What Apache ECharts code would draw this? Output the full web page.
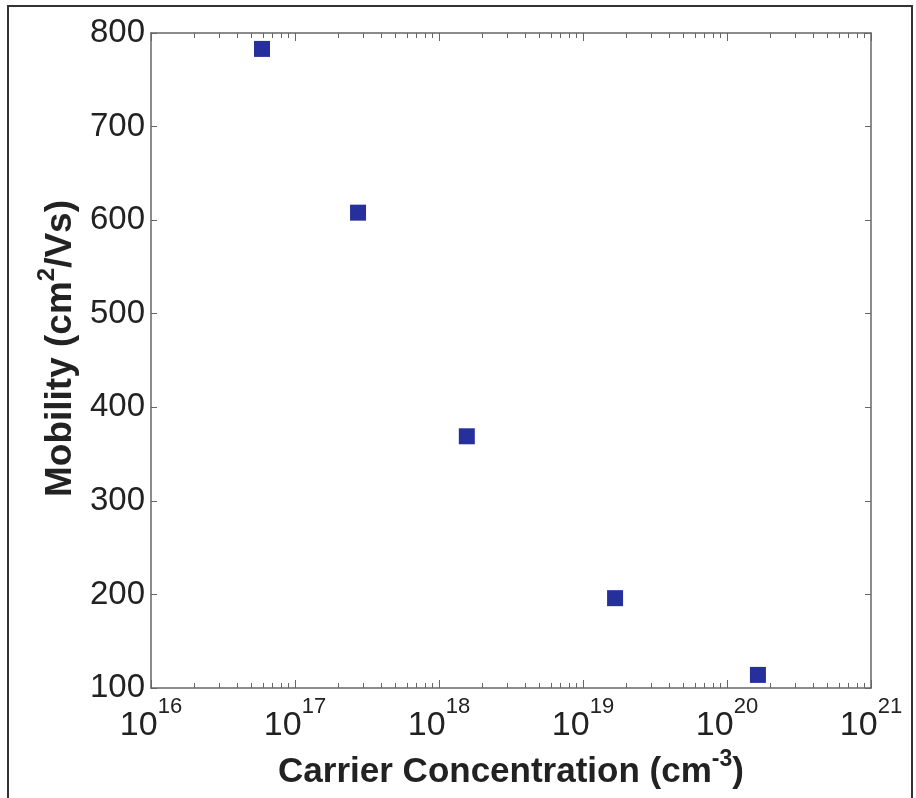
<!DOCTYPE html>
<html>
<head>
<meta charset="utf-8">
<script src="https://cdn.jsdelivr.net/npm/echarts@6/dist/echarts.min.js"></script>
<style>
  html, body { margin: 0; padding: 0; background: #fff; }
  #main { width: 916px; height: 798px; }
</style>
</head>
<body>
<div id="main"></div>
<script>
// carrier concentration (cm^-3) and mobility (cm^2/Vs)
const concentration = [5.9e16, 2.74e17, 1.56e18, 1.67e19, 1.64e20];
const mobility = [783, 608, 369, 196, 114];
const yTicks = [100, 200, 300, 400, 500, 600, 700, 800];

// minor log ticks 2..9 in each decade
const minorTicks = [];
for (let d = 16; d < 21; d++) {
  for (let k = 2; k <= 9; k++) minorTicks.push(k * Math.pow(10, d));
}

const font = "'Liberation Sans', Arial, sans-serif";
const axisColor = "#666";
function titleRich(size) {
  return {
    a: { fontSize: size, fontWeight: "bold", fontFamily: font, color: "#222", lineHeight: size, verticalAlign: "bottom" },
    s: { fontSize: Math.round(size * 0.66), fontWeight: "bold", fontFamily: font, color: "#222", lineHeight: Math.round(size * 0.66), padding: [0, 0, Math.round(size * 0.54), 0], verticalAlign: "bottom" },
  };
}

let myChart = echarts.init(document.getElementById("main"));

const xBase = {
  type: "log",
  logBase: 10,
  min: 1e16,
  max: 1e21,
  gridIndex: 0,
  splitLine: { show: false },
};

myChart.setOption({
  animation: false,
  backgroundColor: "#fff",
  grid: { left: 151, top: 33, right: 45, bottom: 110 },
  graphic: [
    {
      type: "rect",
      shape: { x: 8, y: 6, width: 904, height: 804 },
      style: { fill: "none", stroke: "#333", lineWidth: 2 },
      silent: true,
    },
  ],
  xAxis: [
    {
      ...xBase,
      position: "bottom",
      axisLine: { lineStyle: { color: axisColor, width: 1.5 } },
      axisTick: { inside: true, length: 8, lineStyle: { color: axisColor } },
      axisLabel: {
        margin: 21,
        fontFamily: font,
        color: "#222",
        formatter: (v) => "{b|10}{s|" + Math.round(Math.log10(v)) + "}",
        rich: {
          b: { fontSize: 34, lineHeight: 34, fontFamily: font, color: "#222", verticalAlign: "bottom" },
          s: { fontSize: 22, lineHeight: 22, fontFamily: font, color: "#222", padding: [0, 0, 25, 0], verticalAlign: "bottom" },
        },
      },
      name: "{a|Carrier Concentration (cm}{s|-3}{a|)}",
      nameLocation: "middle",
      nameGap: 63,
      nameTextStyle: { rich: titleRich(35) },
    },
    {
      ...xBase,
      position: "bottom",
      axisLine: { show: false },
      axisTick: { inside: true, length: 5, customValues: minorTicks, lineStyle: { color: axisColor } },
      axisLabel: { show: false },
    },
    {
      ...xBase,
      position: "top",
      axisLine: { lineStyle: { color: axisColor, width: 1.5 } },
      axisTick: { inside: true, length: 8, lineStyle: { color: axisColor } },
      axisLabel: { show: false },
    },
    {
      ...xBase,
      position: "top",
      axisLine: { show: false },
      axisTick: { inside: true, length: 5, customValues: minorTicks, lineStyle: { color: axisColor } },
      axisLabel: { show: false },
    },
  ],
  yAxis: [
    {
      type: "value",
      min: 100,
      max: 800,
      interval: 100,
      position: "left",
      splitLine: { show: false },
      axisLine: { show: true, lineStyle: { color: axisColor, width: 1.5 } },
      axisTick: { show: true, inside: true, length: 6, lineStyle: { color: axisColor } },
      axisLabel: {
        margin: 6,
        fontSize: 33,
        fontFamily: font,
        color: "#222",
        customValues: yTicks,
      },
      name: "{a|Mobility (cm}{s|2}{a|/Vs)}",
      nameLocation: "middle",
      nameGap: 61,
      nameTextStyle: { rich: titleRich(37), padding: [0, 0, 0, 24] },
    },
    {
      type: "value",
      min: 100,
      max: 800,
      interval: 100,
      position: "right",
      splitLine: { show: false },
      axisLine: { show: true, lineStyle: { color: axisColor, width: 1.5 } },
      axisTick: { show: true, inside: true, length: 6, lineStyle: { color: axisColor } },
      axisLabel: { show: false },
    },
  ],
  series: [
    {
      type: "scatter",
      xAxisIndex: 0,
      yAxisIndex: 0,
      symbol: "rect",
      symbolSize: 16,
      itemStyle: { color: "#26309c", opacity: 1 },
      data: concentration.map((c, i) => [c, mobility[i]]),
    },
  ],
});
</script>
</body>
</html>
